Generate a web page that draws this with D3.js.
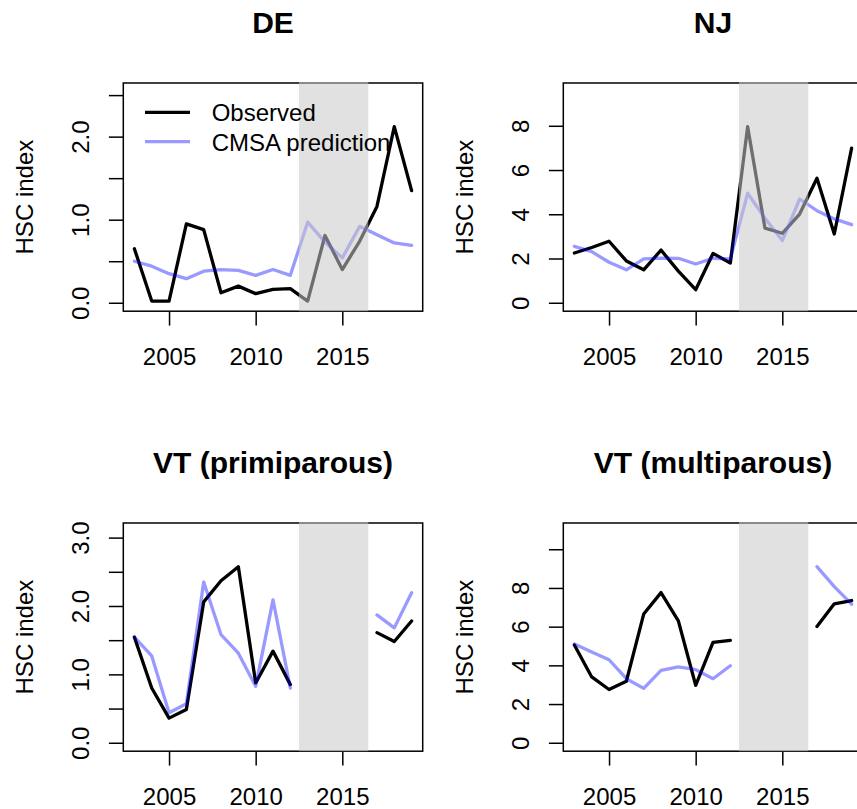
<!DOCTYPE html>
<html>
<head>
<meta charset="utf-8">
<script src="https://cdn.jsdelivr.net/npm/d3@7"></script>
<style>
  html, body { margin: 0; padding: 0; background: #fff; }
  svg { display: block; font-family: "Liberation Sans", Arial, Helvetica, sans-serif; }
</style>
</head>
<body>
<svg id="chart" width="857" height="809"></svg>
<script>
// ---- data ----
const years = [2003, 2004, 2005, 2006, 2007, 2008, 2009, 2010, 2011, 2012, 2013, 2014, 2015, 2016, 2017, 2018, 2019];
const panelTitles = ["DE", "NJ", "VT (primiparous)", "VT (multiparous)"];
const deObserved = [0.65, 0.02, 0.02, 0.95, 0.88, 0.12, 0.20, 0.11, 0.16, 0.17, 0.02, 0.81, 0.40, 0.74, 1.16, 2.12, 1.35];
const deCmsa = [0.50, 0.44, 0.35, 0.29, 0.38, 0.40, 0.39, 0.33, 0.40, 0.33, 0.97, 0.73, 0.54, 0.92, 0.82, 0.72, 0.69];
const njObserved = [2.25, 2.50, 2.78, 1.89, 1.49, 2.38, 1.43, 0.59, 2.23, 1.80, 7.96, 3.37, 3.14, 4.01, 5.63, 3.11, 6.99];
const njCmsa = [2.55, 2.31, 1.83, 1.49, 1.98, 2.02, 2.01, 1.75, 2.01, 1.98, 4.95, 3.82, 2.81, 4.69, 4.16, 3.79, 3.53];
const vtpObserved = [1.545, 0.80, 0.36, 0.485, 2.06, 2.37, 2.575, 0.875, 1.34, 0.85, null, null, null, null, 1.61, 1.48, 1.78];
const vtpCmsa = [1.545, 1.27, 0.44, 0.57, 2.35, 1.58, 1.31, 0.825, 2.09, 0.80, null, null, null, null, 1.87, 1.68, 2.195];
const vtmObserved = [5.05, 3.40, 2.75, 3.18, 6.65, 7.76, 6.30, 2.97, 5.19, 5.29, null, null, null, null, 6.01, 7.18, 7.35];
const vtmCmsa = [5.10, 4.69, 4.29, 3.31, 2.81, 3.74, 3.92, 3.78, 3.31, 3.98, null, null, null, null, 9.10, 8.07, 7.16];
const xTicks = [2005, 2010, 2015];
const yTicksList = [
  [0, 0.5, 1.0, 1.5, 2.0, 2.5],
  [0, 2, 4, 6, 8],
  [0, 0.5, 1.0, 1.5, 2.0, 2.5, 3.0],
  [0, 2, 4, 6, 8, 10]
];
const yLabelsList = [
  ["0.0", "", "1.0", "", "2.0", ""],
  ["0", "2", "4", "6", "8"],
  ["0.0", "", "1.0", "", "2.0", "", "3.0"],
  ["0", "2", "4", "6", "8", ""]
];
const observedList = [deObserved, njObserved, vtpObserved, vtmObserved];
const cmsaList = [deCmsa, njCmsa, vtpCmsa, vtmCmsa];
const shadeYears = [2012.5, 2016.5];
const legendLabels = ["Observed", "CMSA prediction"];
const yLabel = "HSC index";

// ---- drawing ----
const svg = d3.select("#chart");
const FONT = 24;
const plotLeft = 123.3, plotRight = 422.7, plotTop = 83, plotBottom = 311.2;
const offset = 440;
const tickLen = 14.4;
const LW = 3.3;

const black = "#000000";
const blueCol = "#0000ff";

panelTitles.forEach((title, i) => {
  const ox = (i % 2) * offset;
  const oy = Math.floor(i / 2) * offset;
  const obs = observedList[i], pred = cmsaList[i];
  const all = obs.concat(pred).filter(v => v != null);
  const ymax = 1.2 * d3.max(all);
  const yr = [0, ymax];
  const pad = 0.04 * (yr[1] - yr[0]);

  const x = d3.scaleLinear()
    .domain([2003 - 0.04 * 16, 2019 + 0.04 * 16])
    .range([plotLeft + ox, plotRight + ox]);
  const y = d3.scaleLinear()
    .domain([yr[0] - pad, yr[1] + pad])
    .range([plotBottom + oy, plotTop + oy]);

  const g = svg.append("g");

  // x axis
  const xAxis = d3.axisBottom(x).tickValues(xTicks).tickFormat(d3.format("d"))
    .tickSize(tickLen).tickSizeOuter(0);
  const xg = g.append("g").attr("transform", `translate(0,${plotBottom + oy})`).call(xAxis);
  xg.select(".domain").remove();
  xg.selectAll(".tick line").attr("stroke", black).attr("stroke-width", 1.5);
  xg.selectAll(".tick text").attr("y", 365 - 311.2).attr("dy", 0)
    .attr("font-size", FONT).attr("fill", black)
    .attr("font-family", "'Liberation Sans', Arial, sans-serif");

  // y axis
  const labs = yLabelsList[i];
  const yt = yTicksList[i];
  const yAxis = d3.axisLeft(y).tickValues(yt)
    .tickFormat((d, k) => labs[k]).tickSize(tickLen).tickSizeOuter(0);
  const yg = g.append("g").attr("transform", `translate(${plotLeft + ox},0)`).call(yAxis);
  yg.select(".domain").remove();
  yg.selectAll(".tick line").attr("stroke", black).attr("stroke-width", 1.5);
  yg.selectAll(".tick text")
    .attr("transform", "rotate(-90)")
    .attr("x", 0).attr("y", -(plotLeft - 88.5)).attr("dy", 0)
    .attr("text-anchor", "middle")
    .attr("font-size", FONT).attr("fill", black)
    .attr("font-family", "'Liberation Sans', Arial, sans-serif");

  // y label
  const cy = (plotTop + plotBottom) / 2 + oy;
  g.append("text")
    .attr("transform", `translate(${32.7 + ox},${cy}) rotate(-90)`)
    .attr("text-anchor", "middle")
    .attr("font-size", FONT)
    .attr("fill", black)
    .text(yLabel);

  // title
  g.append("text")
    .attr("x", (plotLeft + plotRight) / 2 + ox)
    .attr("y", 33.3 + oy)
    .attr("text-anchor", "middle")
    .attr("font-size", 30)
    .attr("font-weight", "bold")
    .attr("fill", black)
    .text(title);

  // box
  g.append("rect")
    .attr("x", plotLeft + ox).attr("y", plotTop + oy)
    .attr("width", plotRight - plotLeft).attr("height", plotBottom - plotTop)
    .attr("fill", "none").attr("stroke", black).attr("stroke-width", 1.5);

  const line = d3.line()
    .defined(d => d.v != null)
    .x(d => x(d.yr)).y(d => y(d.v));

  // observed
  g.append("path")
    .datum(years.map((yr, k) => ({ yr, v: obs[k] })))
    .attr("d", line)
    .attr("fill", "none").attr("stroke", black).attr("stroke-width", LW)
    .attr("stroke-linejoin", "round").attr("stroke-linecap", "round");

  // prediction (semi-transparent blue)
  g.append("path")
    .datum(years.map((yr, k) => ({ yr, v: pred[k] })))
    .attr("d", line)
    .attr("fill", "none").attr("stroke", blueCol).attr("stroke-opacity", 0.4)
    .attr("stroke-width", LW)
    .attr("stroke-linejoin", "round").attr("stroke-linecap", "round");

  // shaded period (semi-transparent grey drawn on top)
  g.append("rect")
    .attr("x", x(shadeYears[0])).attr("y", plotTop + oy - 1)
    .attr("width", x(shadeYears[1]) - x(shadeYears[0]))
    .attr("height", plotBottom - plotTop + 1)
    .attr("fill", "rgb(200,200,200)").attr("fill-opacity", 0.55);

  // legend (only first panel)
  if (i === 0) {
    const lg = g.append("g");
    const ly = [112.3, 141.7];
    const lc = [{ c: black, o: 1 }, { c: blueCol, o: 0.4 }];
    legendLabels.forEach((lab, k) => {
      lg.append("line")
        .attr("x1", 145).attr("x2", 190).attr("y1", ly[k]).attr("y2", ly[k])
        .attr("stroke", lc[k].c).attr("stroke-opacity", lc[k].o).attr("stroke-width", LW);
      lg.append("text")
        .attr("x", 211.7).attr("y", ly[k] + 8.8)
        .attr("font-size", FONT).attr("fill", black)
        .text(lab);
    });
  }
});
</script>
</body>
</html>
